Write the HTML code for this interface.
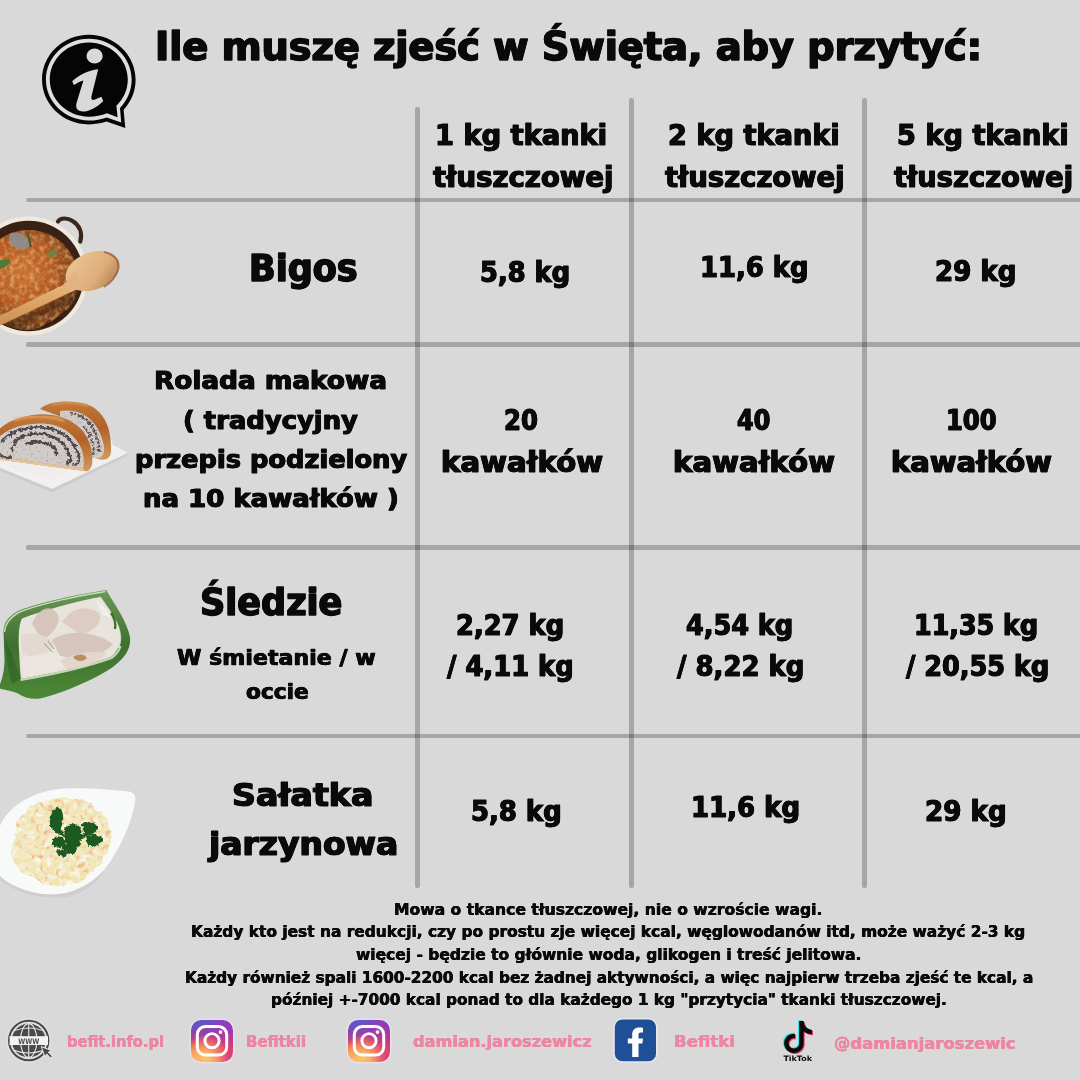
<!DOCTYPE html>
<html lang="pl"><head><meta charset="utf-8"><title>Ile muszę zjeść w Święta, aby przytyć</title>
<style>
html,body{margin:0;padding:0}
body{width:1080px;height:1080px;overflow:hidden;background:#d9d9d9;position:relative;font-family:"DejaVu Sans","Liberation Sans",sans-serif}
.t{position:absolute;white-space:nowrap;font-weight:bold;color:#0a0a0a;-webkit-text-stroke-color:#0a0a0a;transform-origin:0 0;font-family:"DejaVu Sans","Liberation Sans",sans-serif}
.h,.v{position:absolute;background:rgba(0,0,0,.23);border-radius:2px}
.h{left:25.5px;width:1060px;height:4.5px}
.v{width:4.6px}
.ig{position:absolute;top:1019.5px;width:42px;height:42.4px;border-radius:10.5px;box-shadow:0 0 0 1.6px rgba(244,226,244,.6);background:radial-gradient(circle farthest-corner at 35% 90%,#fec564,transparent 50%),radial-gradient(circle farthest-corner at 0 140%,#fec564,transparent 50%),radial-gradient(ellipse farthest-corner at 0 -25%,#5258cf,transparent 50%),radial-gradient(ellipse farthest-corner at 20% -50%,#5258cf,transparent 50%),radial-gradient(ellipse farthest-corner at 100% 0,#893dc2,transparent 50%),radial-gradient(ellipse farthest-corner at 60% -20%,#893dc2,transparent 50%),radial-gradient(ellipse farthest-corner at 100% 100%,#d9317a,transparent),linear-gradient(#6559ca,#bc318f 30%,#e33f5f 50%,#f77638 70%,#fec66d 100%)}
svg{position:absolute;left:0;top:0}
</style></head><body>
<!-- grid -->
<div class="h" style="top:197.8px"></div>
<div class="h" style="top:342.1px"></div>
<div class="h" style="top:545px"></div>
<div class="h" style="top:733.8px"></div>
<div class="v" style="left:415px;top:107px;height:780.5px"></div>
<div class="v" style="left:629.1px;top:98px;height:789.5px"></div>
<div class="v" style="left:862.1px;top:98px;height:789.5px"></div>
<!--ART-->
<!--FOOD_BEGIN-->
<svg width="160" height="1080" viewBox="0 0 160 1080">
<defs>
<filter id="nz" x="0" y="0" width="100%" height="100%"><feTurbulence type="fractalNoise" baseFrequency=".16" numOctaves="2" seed="4"/><feColorMatrix values="0 0 0 0 .35  0 0 0 0 .12  0 0 0 0 .02  1.6 0 0 0 -.55"/><feComposite in2="SourceGraphic" operator="in"/></filter>
<filter id="nz2" x="0" y="0" width="100%" height="100%"><feTurbulence type="fractalNoise" baseFrequency=".2" numOctaves="2" seed="9"/><feColorMatrix values="0 0 0 0 .95  0 0 0 0 .62  0 0 0 0 .25  1.8 0 0 0 -.75"/><feComposite in2="SourceGraphic" operator="in"/></filter>
<filter id="nzs" x="0" y="0" width="100%" height="100%"><feTurbulence type="fractalNoise" baseFrequency=".2" numOctaves="2" seed="3"/><feColorMatrix values="0 0 0 0 .92  0 0 0 0 .76  0 0 0 0 .3  2.8 0 0 0 -1.3"/><feComposite in2="SourceGraphic" operator="in"/></filter>
<filter id="nzs2" x="0" y="0" width="100%" height="100%"><feTurbulence type="fractalNoise" baseFrequency=".2" numOctaves="1" seed="12"/><feColorMatrix values="0 0 0 0 .90  0 0 0 0 .42  0 0 0 0 .2  4 0 0 0 -2.15"/><feComposite in2="SourceGraphic" operator="in"/></filter>
<filter id="rough" x="-10%" y="-10%" width="120%" height="120%"><feTurbulence type="fractalNoise" baseFrequency=".12" numOctaves="2" seed="7" result="t"/><feDisplacementMap in="SourceGraphic" in2="t" scale="7" xChannelSelector="R" yChannelSelector="G"/></filter>
<filter id="rough2" x="-10%" y="-10%" width="120%" height="120%"><feTurbulence type="fractalNoise" baseFrequency=".3" numOctaves="2" seed="2" result="t"/><feDisplacementMap in="SourceGraphic" in2="t" scale="5" xChannelSelector="R" yChannelSelector="G"/></filter>
<filter id="nzs3" x="0" y="0" width="100%" height="100%"><feTurbulence type="fractalNoise" baseFrequency=".17" numOctaves="2" seed="21"/><feColorMatrix values="0 0 0 0 1  0 0 0 0 1  0 0 0 0 .96  2.4 0 0 0 -1.15"/><feComposite in2="SourceGraphic" operator="in"/></filter>
<filter id="nzr" x="0" y="0" width="100%" height="100%"><feTurbulence type="fractalNoise" baseFrequency=".45" numOctaves="2" seed="5"/><feColorMatrix values="0 0 0 0 .3  0 0 0 0 .27  0 0 0 0 .3  2.2 0 0 0 -1.25"/><feComposite in2="SourceGraphic" operator="in"/></filter>
<filter id="bl1"><feGaussianBlur stdDeviation="1"/></filter>
<filter id="bl2"><feGaussianBlur stdDeviation="2"/></filter>
<radialGradient id="bg1" cx=".42" cy=".42" r=".62"><stop offset="0" stop-color="#d67a38"/><stop offset=".5" stop-color="#bd5a26"/><stop offset=".8" stop-color="#84401c"/><stop offset="1" stop-color="#40200e"/></radialGradient>
<linearGradient id="sp1" x1="0" y1="0" x2="1" y2="1"><stop offset="0" stop-color="#ecc79a"/><stop offset=".6" stop-color="#e0ae7c"/><stop offset="1" stop-color="#a9764a"/></linearGradient>
<linearGradient id="sp2" x1="0" y1="0" x2="0" y2="1"><stop offset="0" stop-color="#e6b67a"/><stop offset="1" stop-color="#cb8f4c"/></linearGradient>
<linearGradient id="cr1" x1="0" y1="0" x2="0" y2="1"><stop offset="0" stop-color="#c27a3a"/><stop offset=".45" stop-color="#b06226"/><stop offset="1" stop-color="#d39a62"/></linearGradient>
<linearGradient id="gr1" x1="0" y1="0" x2="0" y2="1"><stop offset="0" stop-color="#6a9a56"/><stop offset=".5" stop-color="#3f7030"/><stop offset="1" stop-color="#4c8836"/></linearGradient>
<clipPath id="potc"><circle cx="28.5" cy="280" r="50"/></clipPath>
</defs>

<!-- BIGOS pot -->
<g>
<path d="M58,221.5 C63,213.5 85.5,222 80.3,241.5" fill="none" stroke="#3b251a" stroke-width="4.2" stroke-linecap="round"/>
<circle cx="28.5" cy="276" r="59.4" fill="#f1e9de"/>
<circle cx="28.5" cy="276" r="55.2" fill="#3a2116"/>
<circle cx="28.5" cy="280" r="50" fill="url(#bg1)"/>
<g clip-path="url(#potc)">
<rect x="-25" y="228" width="108" height="104" fill="#000" filter="url(#nz)"/>
<rect x="-25" y="228" width="108" height="104" fill="#000" filter="url(#nz2)" opacity=".75"/>
<ellipse cx="19" cy="241" rx="11" ry="7.5" fill="#8b8e93" transform="rotate(32 19 241)" opacity=".9"/>
<path d="M27,232 L31,247" stroke="#4a5a30" stroke-width="2"/>
<ellipse cx="2" cy="264" rx="9" ry="4" fill="#4f7a3a" transform="rotate(-25 2 264)"/>
<ellipse cx="52" cy="253" rx="6" ry="3" fill="#6b8a45" transform="rotate(-30 52 253)" opacity=".8"/>
<path d="M-5,322 Q34,348 78,298 L84,312 Q42,350 -5,334 Z" fill="#2a150c" opacity=".8"/>
<path d="M0,326 L70,293 L76,300 L0,336 Z" fill="#2a150c" opacity=".45" filter="url(#bl1)"/>
</g>
<!-- spoon -->
<path d="M0,315.8 L62,285.5 L72,291.5 L0,325.4 Z" fill="url(#sp2)"/>
<ellipse cx="92.5" cy="271" rx="28" ry="18.6" fill="url(#sp1)" transform="rotate(-22 92.5 271)"/>
<path d="M62,285.5 Q70,280 74,270 L84,288 Q76,289 70,292.5 Z" fill="#e2b282"/>
<path d="M104,252 Q121,256 118,270 Q115,280 104,287" fill="none" stroke="#8a5a3a" stroke-width="2" opacity=".7"/>
</g>

<!-- ROLADA -->
<g>
<path d="M0,463.5 L52,478 L112.5,444.5 L127.8,453 L52,489 L0,468 Z" fill="#f1f0ee"/>
<path d="M0,468 L52,489 L127.8,453 L127.8,455.5 L52,492.5 L0,471 Z" fill="#c6c6c6" opacity=".7"/>
<path d="M0,440 L112,440 L112.5,444.5 L52,480 L0,464 Z" fill="#efeeec"/>
<!-- back slice -->
<path d="M40,409 C48,401 70,399.5 86,404 C104,410 112,428 111,452 C110.5,458 106,460.5 100,459.5 L88,456 L70,420 Z" fill="url(#cr1)"/>
<path d="M52,404.5 C64,401.5 78,402.5 88,406" fill="none" stroke="#e7a96c" stroke-width="2.2" opacity=".7" filter="url(#bl1)"/>
<path d="M60,411 C80,407.5 99,419 104,446 C105,456 100,460 94,458 L60,450 Z" fill="#d3cbc6"/>
<path d="M60,411 C80,407.5 99,419 104,446 C105,456 100,460 94,458 L60,450 Z" fill="#000" filter="url(#nzr)"/>
<g filter="url(#rough2)" opacity=".85" fill="none" stroke="#3f363c">
<path d="M70,413 C88,415 98,430 99.5,452" stroke-width="2.6" stroke-dasharray="3 1.2"/>
<path d="M84,426 C91,434 94,444 93.5,454" stroke-width="2.2" stroke-dasharray="2 1.5"/>
</g>
<!-- front slice -->
<path d="M0,428.5 C10,419 28,414.5 42,414.2 C56,414 70,418.5 80,428 C89,437 93,450 92.3,462 C92,468 89,471.5 85.5,471.3 L0,459.5 Z" fill="url(#cr1)"/>
<path d="M14,420 C30,415 50,415.5 64,421" fill="none" stroke="#eaa868" stroke-width="2.5" opacity=".8" filter="url(#bl1)"/>
<path d="M0,436 C14,424.5 34,422.5 48,424 C64,426 76,436 81.5,449 C84,456 84.5,463 83,468.5 L0,457 Z" fill="#d2ccc8"/>
<path d="M0,436 C14,424.5 34,422.5 48,424 C64,426 76,436 81.5,449 C84,456 84.5,463 83,468.5 L0,457 Z" fill="#000" filter="url(#nzr)"/>
<path d="M0,457 L83,468.5 L85.5,471.3 L0,459.8 Z" fill="#e4c39a"/>
<g fill="none" stroke="#3d343a" stroke-linecap="round" filter="url(#rough2)" opacity=".88">
<path d="M2,441 C14,428 36,425.5 50,428.5 C66,432 76,444 79,457" stroke-width="2.8" stroke-dasharray="4 1.2"/>
<path d="M79,457 C79.5,461 78,464.5 74.5,465" stroke-width="2.4"/>
<path d="M12,452 C12,440 24,433 38,433.5 C54,434 66,443 70,456 C71,460 70,463 67,463.5" stroke-width="2.6" stroke-dasharray="5 1"/>
<path d="M26,444 C32,441 44,441 52,446 C55,448 57,451 56,454" stroke-width="3"/>
<path d="M0,455 C3,458 7,459 10,457" stroke-width="2.2"/>
</g>
</g>

<!-- SLEDZIE dish -->
<g>
<path d="M3.5,631 C4,622 9,616 18,611 C40,602 80,594 106.3,590 C113,602 123,615 128,630 C131,638 131,644 127,652 C121,662 110,670 96,677 C76,687 56,695 40,698.5 C32,699.5 24,698 17,693 C12,691 6,690 1,689 C-1,688 -1,685 0.5,683 C3,676 4.5,668 4.5,660 Z" fill="url(#gr1)"/>
<path d="M4.5,632 C5,623 10,617.5 18.5,612.5 C40,603.5 80,595.5 105.5,591.6" fill="none" stroke="#d9ead0" stroke-width="1.5" opacity=".85"/>
<path d="M6,640 C10,650 16,664 21,679 L12,684 C8,672 6,656 6,640 Z" fill="#2c5a20" opacity=".5"/>
<path d="M19,650 C18,636 19,624 22,618.5 C44,610 76,601.5 100,597 C106,606 114,616 118,626 C121,634 121,642 118,648 C116,652 114,655 111,657 C84,667 50,674 21,679 C20,670 19.5,660 19,650 Z" fill="#e9e3de"/>
<path d="M20.5,680 C50,675 84,668 111.5,658 C116,655 119,651 120.5,646" fill="none" stroke="#cfe4c2" stroke-width="2.2" opacity=".9"/>
<path d="M100,597 C106,606 114,616 118,626 C121,634 121,642 118.5,648" fill="none" stroke="#e3efd9" stroke-width="1.6" opacity=".8"/>
<g opacity=".92">
<path d="M32,624 C38,608 50,604 57,613 C62,621 54,634 42,640 Z" fill="#d6c2b7"/>
<path d="M62,622 C72,607 86,605 98,612 C104,620 96,632 80,634 Z" fill="#dccbc2"/>
<path d="M21,636 C30,630 46,634 55,644 C49,656 32,660 22,653 Z" fill="#e4d8d1"/>
<path d="M52,640 C70,628 96,632 113,644 C105,655 80,661 60,656 Z" fill="#d5c3b9"/>
<path d="M22,660 C36,652 58,653 71,660 C61,671 38,676 24,675 Z" fill="#eee6e1"/>
<path d="M60,660 C76,652 98,650 107,653 C99,663 80,669 66,669 Z" fill="#e2d5cc"/>
<path d="M96,600 C101,604 108,610 111,618 L103,615 Z" fill="#f3f0ed"/>
<path d="M73,657 C79,653 85,654 87,658 C83,662 77,662 73,657 Z" fill="#b58758"/>
<path d="M111,613 C114,617 116,623 115,629" stroke="#3b6527" stroke-width="2.4" fill="none"/>
<path d="M44,643 L52,652 M48,641 L54,649" stroke="#6f8f5a" stroke-width="1" fill="none" opacity=".8"/>
</g>
</g>

<!-- SALATKA plate -->
<g>
<path d="M0,826 C8,806 34,790 66,788.5 C90,787.5 112,790 128,791.5 C134,792 136.5,796 135,802 C132,822 120,850 104,870 C90,886 70,895 50,894.5 C30,894 10,886 0,876 Z" fill="#f8f9f9"/>
<path d="M0,876 C10,886 30,894 50,894.5 C70,895 90,886 104,870 C100,880 86,893 66,897 C40,900 14,892 0,880 Z" fill="#c4c4c4" opacity=".55"/>
<g filter="url(#rough)">
<path id="salp" d="M16,838 C13,826 18,816 26,812 C30,804 40,800 50,801 C56,796 66,795 74,799 C84,798 92,803 96,810 C104,814 110,822 109,832 C112,840 110,850 104,856 C102,866 94,873 86,875 C80,882 70,886 60,884 C50,887 40,884 34,878 C24,876 16,868 15,858 C11,852 12,844 16,838 Z" fill="#efe7c2"/>
</g>
<g filter="url(#rough)"><path d="M16,838 C13,826 18,816 26,812 C30,804 40,800 50,801 C56,796 66,795 74,799 C84,798 92,803 96,810 C104,814 110,822 109,832 C112,840 110,850 104,856 C102,866 94,873 86,875 C80,882 70,886 60,884 C50,887 40,884 34,878 C24,876 16,868 15,858 C11,852 12,844 16,838 Z" fill="#000" filter="url(#nzs)"/></g>
<g filter="url(#rough)"><path d="M16,838 C13,826 18,816 26,812 C30,804 40,800 50,801 C56,796 66,795 74,799 C84,798 92,803 96,810 C104,814 110,822 109,832 C112,840 110,850 104,856 C102,866 94,873 86,875 C80,882 70,886 60,884 C50,887 40,884 34,878 C24,876 16,868 15,858 C11,852 12,844 16,838 Z" fill="#000" filter="url(#nzs2)"/></g>
<g filter="url(#rough)"><path d="M16,838 C13,826 18,816 26,812 C30,804 40,800 50,801 C56,796 66,795 74,799 C84,798 92,803 96,810 C104,814 110,822 109,832 C112,840 110,850 104,856 C102,866 94,873 86,875 C80,882 70,886 60,884 C50,887 40,884 34,878 C24,876 16,868 15,858 C11,852 12,844 16,838 Z" fill="#000" filter="url(#nzs3)"/></g>
<g fill="#1d5a20" filter="url(#rough2)">
<path d="M50,823 C50,813 55,806 60,808 C64,812 64,821 61,828 L66,838 L58,834 C54,832 50,828 50,823 Z"/>
<path d="M64,829 C69,822 78,822 81,829 C83,838 80,847 74,853 C69,853 65,847 65,839 Z"/>
<path d="M52,839 C57,834 63,836 66,842 C63,848 57,849 52,845 Z"/>
<path d="M82,824 C87,819 95,822 99,829 C94,834 88,836 84,833 Z"/>
<path d="M86,837 C92,833 100,835 104,840 C99,846 92,848 88,845 Z"/>
<path d="M62,846 C67,842 74,846 75,853 C70,856 64,853 62,846 Z"/>
<path d="M72,838 L90,831 L91,834.5 L75,842 Z"/>
<path d="M56,851 C60,848 66,850 68,855 C64,858 58,857 56,851 Z"/>
</g>
</g>
</svg>
<!--FOOD_END-->
<div class="ig" style="left:191.1px"></div><div class="ig" style="left:348.1px"></div>
<!--ICONS_BEGIN-->
<svg width="1080" height="1080" viewBox="0 0 1080 1080">
<defs>
<linearGradient id="ig" x1="0" y1="1" x2="1" y2="0">
<stop offset="0" stop-color="#fed064"/><stop offset=".22" stop-color="#f8832c"/><stop offset=".48" stop-color="#e9275f"/><stop offset=".75" stop-color="#b02db0"/><stop offset="1" stop-color="#6a3fd0"/>
</linearGradient>
<radialGradient id="igb" cx="0" cy="0" r="1"><stop offset="0" stop-color="#4a50dd" stop-opacity=".95"/><stop offset=".6" stop-color="#5b45d6" stop-opacity=".35"/><stop offset="1" stop-color="#5b45d6" stop-opacity="0"/></radialGradient>
<g id="insta">
<rect x="6.2" y="7" width="29.4" height="28.6" rx="8.2" fill="none" stroke="#fff" stroke-width="3"/>
<circle cx="20.9" cy="21.2" r="7.1" fill="none" stroke="#fff" stroke-width="2.9"/>
<circle cx="29.4" cy="12.6" r="1.9" fill="#fff"/>
</g>
</defs>
<!-- info bubble -->
<g>
<path d="M88.8,34.8 C114.6,34.8 135.6,54.9 135.6,79.6 C135.6,91.5 131,102 123.6,109.8 L125.3,128 L106.5,121.6 C101,123.4 95,124.4 88.8,124.4 C63,124.4 42,104.3 42,79.6 C42,54.9 63,34.8 88.8,34.8 Z" fill="#050505"/>
<path d="M88.8,38.7 C112.4,38.7 131.7,57 131.7,79.6 C131.7,90.6 127.3,100.4 120,107.9 L121.2,122.4 L106.7,117.4 C101.2,119.4 95.2,120.5 88.8,120.5 C65.2,120.5 45.9,102.2 45.9,79.6 C45.9,57 65.2,38.7 88.8,38.7 Z" fill="#dedede"/>
<path d="M88.8,42.6 C110.3,42.6 127.8,59.2 127.8,79.6 C127.8,89.8 123.5,99 116.4,105.8 L117.6,117.3 L107,113.2 C101.5,115.5 95.3,116.7 88.8,116.7 C67.3,116.7 49.8,100 49.8,79.6 C49.8,59.2 67.3,42.6 88.8,42.6 Z" fill="#050505"/>
<ellipse cx="94.6" cy="56" rx="8.1" ry="7.5" fill="#d9d9d9"/>
<path d="M72.2,81.3 C78,75.5 88,70.3 98.2,69.2 L91.4,96.5 C90.8,99.6 92.5,100.6 95,99.6 L101.4,96.8 L103.2,101 C97.5,107 89.5,111.6 83,111.6 C77.2,111.6 75.2,107.6 76.6,102.8 L83.4,80.4 C80.4,81.2 77,83 73.8,85 Z" fill="#d9d9d9"/>
</g>
<!-- globe -->
<g>
<circle cx="28.7" cy="1040.5" r="22.4" fill="#e6e6e6" opacity=".6"/>
<circle cx="28.7" cy="1040.5" r="19.7" fill="none" stroke="#484848" stroke-width="2"/>
<circle cx="28.7" cy="1040.5" r="16.9" fill="#4a4a4a"/>
<g fill="none" stroke="#e8e8e8" stroke-width="1.1">
<line x1="28.7" y1="1023" x2="28.7" y2="1058"/>
<ellipse cx="28.7" cy="1040.5" rx="8.2" ry="16.9"/>
<path d="M14.5,1030.5 Q28.7,1025.5 43,1030.5"/>
<path d="M14.5,1050.5 Q28.7,1055.5 43,1050.5"/>
</g>
<rect x="9.6" y="1036.2" width="38.4" height="8.8" fill="#f4f4f4"/>
<text x="28.7" y="1043.6" font-family="'DejaVu Sans','Liberation Sans',sans-serif" font-weight="bold" font-size="7.6" text-anchor="middle" fill="#4a4a4a" textLength="21" lengthAdjust="spacingAndGlyphs">WWW</text>
<path d="M41.2,1046.6 L51.6,1050.6 L48.3,1052.2 L52.3,1056.2 L50.6,1057.9 L46.6,1053.9 L45,1057.2 Z" fill="#484848" stroke="#ececec" stroke-width="1" stroke-linejoin="round"/>
</g>
<!-- instagram -->
<use href="#insta" x="191.1" y="1019.5"/>
<use href="#insta" x="348.1" y="1019.5"/>
<!-- facebook -->
<g>
<rect x="613.3" y="1018.1" width="44.2" height="44.6" rx="9" fill="#e9edf6" opacity=".8"/>
<rect x="614.8" y="1019.6" width="41.2" height="41.6" rx="7.5" fill="#1f4f97"/>
<path d="M632.2,1057 L632.2,1043.4 L627.8,1043.4 L627.8,1038.4 L632.2,1038.4 L632.2,1034.6 C632.2,1029.9 635,1027.6 639.2,1027.6 C641,1027.6 642.4,1027.8 643,1027.9 L643,1032.6 L640.6,1032.6 C638.9,1032.6 638.5,1033.6 638.5,1034.9 L638.5,1038.4 L643,1038.4 L642.4,1043.4 L638.5,1043.4 L638.5,1057 Z" fill="#fff"/>
</g>
<!-- tiktok -->
<g>
<path d="M799.2,1021.1 L803.6,1021.1 C804,1026.3 807.4,1029.4 811.9,1029.9 L811.9,1034.3 C808.7,1034.2 805.8,1033.1 803.6,1031.3 L803.6,1043.3 C803.6,1048.9 799.2,1053 793.9,1053 C788.5,1053 784.1,1048.7 784.1,1043.3 C784.1,1037.5 789.2,1033.2 794.9,1033.8 L794.9,1038.4 C791.7,1037.8 788.6,1040 788.6,1043.3 C788.6,1046.2 791,1048.5 793.9,1048.5 C796.8,1048.5 799.2,1046.2 799.2,1043.3 Z" fill="#35e0e6" transform="translate(-1.1,-0.9)"/>
<path d="M799.2,1021.1 L803.6,1021.1 C804,1026.3 807.4,1029.4 811.9,1029.9 L811.9,1034.3 C808.7,1034.2 805.8,1033.1 803.6,1031.3 L803.6,1043.3 C803.6,1048.9 799.2,1053 793.9,1053 C788.5,1053 784.1,1048.7 784.1,1043.3 C784.1,1037.5 789.2,1033.2 794.9,1033.8 L794.9,1038.4 C791.7,1037.8 788.6,1040 788.6,1043.3 C788.6,1046.2 791,1048.5 793.9,1048.5 C796.8,1048.5 799.2,1046.2 799.2,1043.3 Z" fill="#f2366b" transform="translate(1.1,0.9)"/>
<path d="M799.2,1021.1 L803.6,1021.1 C804,1026.3 807.4,1029.4 811.9,1029.9 L811.9,1034.3 C808.7,1034.2 805.8,1033.1 803.6,1031.3 L803.6,1043.3 C803.6,1048.9 799.2,1053 793.9,1053 C788.5,1053 784.1,1048.7 784.1,1043.3 C784.1,1037.5 789.2,1033.2 794.9,1033.8 L794.9,1038.4 C791.7,1037.8 788.6,1040 788.6,1043.3 C788.6,1046.2 791,1048.5 793.9,1048.5 C796.8,1048.5 799.2,1046.2 799.2,1043.3 Z" fill="#0a0a0a"/>
<text x="783.4" y="1061" font-family="'DejaVu Sans','Liberation Sans',sans-serif" font-weight="bold" font-size="7.4" fill="#0a0a0a" textLength="28.6" lengthAdjust="spacingAndGlyphs">TikTok</text>
</g>
</svg>
<!--ICONS_END-->
<div class="t" style="left:154.59px;top:23px;font-size:39.58px;line-height:46px;-webkit-text-stroke-width:1.35px;text-shadow:0.87px 0 0,-0.87px 0 0;transform:scaleX(0.9668)">Ile muszę zjeść w Święta, aby przytyć:</div>
<div class="t" style="left:435.45px;top:119px;font-size:28.11px;line-height:33px;-webkit-text-stroke-width:0.96px;text-shadow:0.62px 0 0,-0.62px 0 0;transform:scaleX(0.9700)">1 kg tkanki</div>
<div class="t" style="left:432.78px;top:161px;font-size:28.11px;line-height:33px;-webkit-text-stroke-width:0.96px;text-shadow:0.62px 0 0,-0.62px 0 0;transform:scaleX(0.9809)">tłuszczowej</div>
<div class="t" style="left:667.63px;top:119px;font-size:28.11px;line-height:33px;-webkit-text-stroke-width:0.96px;text-shadow:0.62px 0 0,-0.62px 0 0;transform:scaleX(0.9679)">2 kg tkanki</div>
<div class="t" style="left:664.67px;top:161px;font-size:28.11px;line-height:33px;-webkit-text-stroke-width:0.96px;text-shadow:0.62px 0 0,-0.62px 0 0;transform:scaleX(0.9760)">tłuszczowej</div>
<div class="t" style="left:896.63px;top:119px;font-size:28.11px;line-height:33px;-webkit-text-stroke-width:0.96px;text-shadow:0.62px 0 0,-0.62px 0 0;transform:scaleX(0.9679)">5 kg tkanki</div>
<div class="t" style="left:894.47px;top:161px;font-size:28.11px;line-height:33px;-webkit-text-stroke-width:0.96px;text-shadow:0.62px 0 0,-0.62px 0 0;transform:scaleX(0.9733)">tłuszczowej</div>
<div class="t" style="left:248.56px;top:246px;font-size:37.48px;line-height:44px;-webkit-text-stroke-width:1.27px;text-shadow:0.82px 0 0,-0.82px 0 0;transform:scaleX(0.9340)">Bigos</div>
<div class="t" style="left:479.87px;top:256px;font-size:28.11px;line-height:33px;-webkit-text-stroke-width:0.96px;text-shadow:0.62px 0 0,-0.62px 0 0;transform:scaleX(0.9153)">5,8 kg</div>
<div class="t" style="left:700.25px;top:251px;font-size:28.11px;line-height:33px;-webkit-text-stroke-width:0.96px;text-shadow:0.62px 0 0,-0.62px 0 0;transform:scaleX(0.9198)">11,6 kg</div>
<div class="t" style="left:935.36px;top:255px;font-size:28.11px;line-height:33px;-webkit-text-stroke-width:0.96px;text-shadow:0.62px 0 0,-0.62px 0 0;transform:scaleX(0.9290)">29 kg</div>
<div class="t" style="left:154.24px;top:366px;font-size:25.23px;line-height:29px;-webkit-text-stroke-width:0.86px;text-shadow:0.56px 0 0,-0.56px 0 0;transform:scaleX(1.0435)">Rolada makowa</div>
<div class="t" style="left:182.86px;top:406px;font-size:25.23px;line-height:29px;-webkit-text-stroke-width:0.86px;text-shadow:0.56px 0 0,-0.56px 0 0;transform:scaleX(1.0243)">( tradycyjny</div>
<div class="t" style="left:134.76px;top:445px;font-size:25.23px;line-height:29px;-webkit-text-stroke-width:0.86px;text-shadow:0.56px 0 0,-0.56px 0 0;transform:scaleX(1.0195)">przepis podzielony</div>
<div class="t" style="left:142.55px;top:484px;font-size:25.23px;line-height:29px;-webkit-text-stroke-width:0.86px;text-shadow:0.56px 0 0,-0.56px 0 0;transform:scaleX(1.0310)">na 10 kawałków )</div>
<div class="t" style="left:504.22px;top:404px;font-size:28.11px;line-height:33px;-webkit-text-stroke-width:0.96px;text-shadow:0.62px 0 0,-0.62px 0 0;transform:scaleX(0.8671)">20</div>
<div class="t" style="left:441.06px;top:446px;font-size:28.11px;line-height:33px;-webkit-text-stroke-width:0.96px;text-shadow:0.62px 0 0,-0.62px 0 0;transform:scaleX(1.0375)">kawałków</div>
<div class="t" style="left:736.88px;top:404px;font-size:28.11px;line-height:33px;-webkit-text-stroke-width:0.96px;text-shadow:0.62px 0 0,-0.62px 0 0;transform:scaleX(0.8503)">40</div>
<div class="t" style="left:672.96px;top:446px;font-size:28.11px;line-height:33px;-webkit-text-stroke-width:0.96px;text-shadow:0.62px 0 0,-0.62px 0 0;transform:scaleX(1.0368)">kawałków</div>
<div class="t" style="left:946.16px;top:404px;font-size:28.11px;line-height:33px;-webkit-text-stroke-width:0.96px;text-shadow:0.62px 0 0,-0.62px 0 0;transform:scaleX(0.8620)">100</div>
<div class="t" style="left:891.07px;top:446px;font-size:28.11px;line-height:33px;-webkit-text-stroke-width:0.96px;text-shadow:0.62px 0 0,-0.62px 0 0;transform:scaleX(1.0298)">kawałków</div>
<div class="t" style="left:199.90px;top:580px;font-size:37.48px;line-height:44px;-webkit-text-stroke-width:1.27px;text-shadow:0.82px 0 0,-0.82px 0 0;transform:scaleX(0.9358)">Śledzie</div>
<div class="t" style="left:176.94px;top:646px;font-size:20.64px;line-height:24px;-webkit-text-stroke-width:0.45px;text-shadow:0.41px 0 0,-0.41px 0 0;transform:scaleX(1.0727)">W śmietanie / w</div>
<div class="t" style="left:245.67px;top:680px;font-size:20.64px;line-height:24px;-webkit-text-stroke-width:0.45px;text-shadow:0.41px 0 0,-0.41px 0 0;transform:scaleX(1.0505)">occie</div>
<div class="t" style="left:455.87px;top:609px;font-size:28.11px;line-height:33px;-webkit-text-stroke-width:0.96px;text-shadow:0.62px 0 0,-0.62px 0 0;transform:scaleX(0.9162)">2,27 kg</div>
<div class="t" style="left:447.01px;top:650px;font-size:28.11px;line-height:33px;-webkit-text-stroke-width:0.96px;text-shadow:0.62px 0 0,-0.62px 0 0;transform:scaleX(0.9183)">/ 4,11 kg</div>
<div class="t" style="left:685.89px;top:609px;font-size:28.11px;line-height:33px;-webkit-text-stroke-width:0.96px;text-shadow:0.62px 0 0,-0.62px 0 0;transform:scaleX(0.9083)">4,54 kg</div>
<div class="t" style="left:676.91px;top:650px;font-size:28.11px;line-height:33px;-webkit-text-stroke-width:0.96px;text-shadow:0.62px 0 0,-0.62px 0 0;transform:scaleX(0.9227)">/ 8,22 kg</div>
<div class="t" style="left:914.28px;top:609px;font-size:28.11px;line-height:33px;-webkit-text-stroke-width:0.96px;text-shadow:0.62px 0 0,-0.62px 0 0;transform:scaleX(0.9020)">11,35 kg</div>
<div class="t" style="left:905.80px;top:650px;font-size:28.11px;line-height:33px;-webkit-text-stroke-width:0.96px;text-shadow:0.62px 0 0,-0.62px 0 0;transform:scaleX(0.9090)">/ 20,55 kg</div>
<div class="t" style="left:232.26px;top:776px;font-size:32.63px;line-height:38px;-webkit-text-stroke-width:1.11px;text-shadow:0.72px 0 0,-0.72px 0 0;transform:scaleX(1.0169)">Sałatka</div>
<div class="t" style="left:208.91px;top:825px;font-size:32.63px;line-height:38px;-webkit-text-stroke-width:1.11px;text-shadow:0.72px 0 0,-0.72px 0 0;transform:scaleX(1.0102)">jarzynowa</div>
<div class="t" style="left:470.67px;top:795px;font-size:28.11px;line-height:33px;-webkit-text-stroke-width:0.96px;text-shadow:0.62px 0 0,-0.62px 0 0;transform:scaleX(0.9216)">5,8 kg</div>
<div class="t" style="left:691.24px;top:791px;font-size:28.11px;line-height:33px;-webkit-text-stroke-width:0.96px;text-shadow:0.62px 0 0,-0.62px 0 0;transform:scaleX(0.9241)">11,6 kg</div>
<div class="t" style="left:924.66px;top:795px;font-size:28.11px;line-height:33px;-webkit-text-stroke-width:0.96px;text-shadow:0.62px 0 0,-0.62px 0 0;transform:scaleX(0.9325)">29 kg</div>
<div class="t" style="left:394.39px;top:900px;font-size:16.3px;line-height:19px;-webkit-text-stroke-width:0.11px;text-shadow:0.31px 0 0,-0.31px 0 0;transform:scaleX(0.9574)">Mowa o tkance tłuszczowej, nie o wzroście wagi.</div>
<div class="t" style="left:191.10px;top:922px;font-size:16.3px;line-height:19px;-webkit-text-stroke-width:0.11px;text-shadow:0.31px 0 0,-0.31px 0 0;transform:scaleX(0.9467)">Każdy kto jest na redukcji, czy po prostu zje więcej kcal, węglowodanów itd, może ważyć 2-3 kg</div>
<div class="t" style="left:355.75px;top:945px;font-size:16.3px;line-height:19px;-webkit-text-stroke-width:0.11px;text-shadow:0.31px 0 0,-0.31px 0 0;transform:scaleX(0.9505)">więcej - będzie to głównie woda, glikogen i treść jelitowa.</div>
<div class="t" style="left:184.80px;top:968px;font-size:16.3px;line-height:19px;-webkit-text-stroke-width:0.11px;text-shadow:0.31px 0 0,-0.31px 0 0;transform:scaleX(0.9413)">Każdy również spali 1600-2200 kcal bez żadnej aktywności, a więc najpierw trzeba zjeść te kcal, a</div>
<div class="t" style="left:270.65px;top:990px;font-size:16.3px;line-height:19px;-webkit-text-stroke-width:0.11px;text-shadow:0.31px 0 0,-0.31px 0 0;transform:scaleX(0.9416)">później +-7000 kcal ponad to dla każdego 1 kg &quot;przytycia&quot; tkanki tłuszczowej.</div>
<div class="t" style="left:67.11px;top:1032px;font-size:16.03px;line-height:19px;-webkit-text-stroke-width:0.11px;text-shadow:0.30px 0 0,-0.30px 0 0;color:#ed86a3;-webkit-text-stroke-color:#ed86a3;transform:scaleX(0.9165)">befit.info.pl</div>
<div class="t" style="left:246.10px;top:1032px;font-size:16.03px;line-height:19px;-webkit-text-stroke-width:0.11px;text-shadow:0.30px 0 0,-0.30px 0 0;color:#ed86a3;-webkit-text-stroke-color:#ed86a3;transform:scaleX(0.9345)">Befitkii</div>
<div class="t" style="left:413.06px;top:1032px;font-size:16.03px;line-height:19px;-webkit-text-stroke-width:0.11px;text-shadow:0.30px 0 0,-0.30px 0 0;color:#ed86a3;-webkit-text-stroke-color:#ed86a3;transform:scaleX(1.0104)">damian.jaroszewicz</div>
<div class="t" style="left:674.14px;top:1032px;font-size:16.03px;line-height:19px;-webkit-text-stroke-width:0.11px;text-shadow:0.30px 0 0,-0.30px 0 0;color:#ed86a3;-webkit-text-stroke-color:#ed86a3;transform:scaleX(1.0385)">Befitki</div>
<div class="t" style="left:834.35px;top:1034px;font-size:16.03px;line-height:19px;-webkit-text-stroke-width:0.11px;text-shadow:0.30px 0 0,-0.30px 0 0;color:#ed86a3;-webkit-text-stroke-color:#ed86a3;transform:scaleX(1.0238)">@damianjaroszewic</div>
</body></html>
